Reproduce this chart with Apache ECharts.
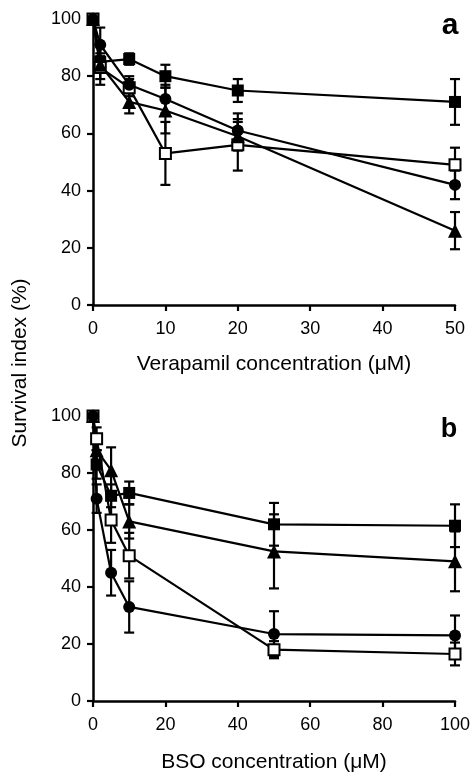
<!DOCTYPE html>
<html>
<head>
<meta charset="utf-8">
<script src="https://cdn.jsdelivr.net/npm/echarts@6/dist/echarts.min.js"></script>
<style>
html,body{margin:0;padding:0;background:#fff;}
#c{width:473px;height:774px;}
</style>
</head>
<body>
<div id="c"></div>
<script>
// Panel a: Verapamil
const xA = [0, 1, 5, 10, 20, 50];
const aFilledSquare = [100, 85, 86, 80, 75, 71];
const aFilledSquareErr = [0, 3, 2, 4, 4, 8];
const aOpenSquare = [100, 83, 76, 53, 56, 49];
const aOpenSquareErr = [0, 4, 3, 11, 9, 6];
const aCircle = [100, 91, 77, 72, 61, 42];
const aCircleErr = [0, 6, 3, 5, 6, 5];
const aTriangle = [100, 84, 71, 68, 59, 26];
const aTriangleErr = [0, 7, 4, 8, 5, 6.5];

// Panel b: BSO
const xB = [0, 1, 5, 10, 50, 100];
const bFilledSquare = [100, 83, 72, 73, 62, 61.5];
const bFilledSquareErr = [0, 5, 4, 4, 7.5, 7.5];
const bTriangle = [100, 88, 81, 63, 52.5, 49];
const bTriangleErr = [0, 5, 8, 6, 13, 10.5];
const bOpenSquare = [100, 92, 63.5, 51, 18, 16.5];
const bOpenSquareErr = [0, 4, 8, 8, 3, 4];
const bCircle = [100, 71, 45, 33, 23.5, 23];
const bCircleErr = [0, 5, 8, 9, 8, 7];

const yTicks = [0, 20, 40, 60, 80, 100];
const xTicksA = [0, 10, 20, 30, 40, 50];
const xTicksB = [0, 20, 40, 60, 80, 100];

const FONT = '"Liberation Sans", Arial, sans-serif';
const chart = echarts.init(document.getElementById('c'));

function pairs(xs, ys) { return xs.map((x, i) => [x, ys[i]]); }
function errData(xs, ys, es) { return xs.map((x, i) => [x, ys[i], es[i]]); }

function lineSeries(idx, xs, ys, symbol, size, open) {
  return {
    type: 'line', xAxisIndex: idx, yAxisIndex: idx,
    data: pairs(xs, ys), symbol: symbol, symbolSize: size,
    showSymbol: true, z: 5,
    lineStyle: { color: '#000', width: 2.2 },
    itemStyle: { color: open ? '#fff' : '#000', borderColor: '#000', borderWidth: open ? 2 : 0 },
    animation: false
  };
}
function errSeries(idx, xs, ys, es) {
  return {
    type: 'custom', xAxisIndex: idx, yAxisIndex: idx,
    data: errData(xs, ys, es), z: 3, animation: false,
    renderItem: function (params, api) {
      const x = api.value(0), y = api.value(1), e = api.value(2);
      if (!e) return null;
      const top = api.coord([x, y + e]);
      const bot = api.coord([x, y - e]);
      const cw = 5;
      const st = { stroke: '#000', lineWidth: 2.2 };
      return {
        type: 'group',
        children: [
          { type: 'line', shape: { x1: top[0], y1: top[1], x2: bot[0], y2: bot[1] }, style: st },
          { type: 'line', shape: { x1: top[0] - cw, y1: top[1], x2: top[0] + cw, y2: top[1] }, style: st },
          { type: 'line', shape: { x1: bot[0] - cw, y1: bot[1], x2: bot[0] + cw, y2: bot[1] }, style: st }
        ]
      };
    }
  };
}

function xAxis(idx, max, interval, name, nameGap) {
  return {
    type: 'value', gridIndex: idx, min: 0, max: max, interval: interval,
    name: name, nameLocation: 'middle', nameGap: nameGap,
    nameTextStyle: { color: '#000', fontSize: 21, fontFamily: FONT },
    axisLine: { show: true, onZero: false, lineStyle: { color: '#000', width: 2.5 } },
    axisTick: { show: true, inside: false, length: 6, lineStyle: { color: '#000', width: 2.2 } },
    axisLabel: { color: '#000', fontSize: 18, fontFamily: FONT, margin: 15 },
    splitLine: { show: false }
  };
}
function yAxis(idx) {
  return {
    type: 'value', gridIndex: idx, min: 0, max: 100, interval: 20,
    axisLine: { show: true, onZero: false, lineStyle: { color: '#000', width: 2.5 } },
    axisTick: { show: true, inside: false, length: 6, lineStyle: { color: '#000', width: 2.2 } },
    axisLabel: { color: '#000', fontSize: 18, fontFamily: FONT, margin: 12 },
    splitLine: { show: false }
  };
}

const option = {
  backgroundColor: '#fff',
  animation: false,
  grid: [
    { left: 93, top: 19, width: 362, height: 286, containLabel: false, outerBoundsMode: 'none' },
    { left: 93, top: 416, width: 362, height: 285, containLabel: false, outerBoundsMode: 'none' }
  ],
  xAxis: [
    xAxis(0, 50, 10, 'Verapamil concentration (\u03bcM)', 49),
    xAxis(1, 100, 20, 'BSO concentration (\u03bcM)', 51)
  ],
  yAxis: [yAxis(0), yAxis(1)],
  graphic: [
    { type: 'text', x: 450, y: 41, style: { text: 'a', fontSize: 30, fontWeight: 'bold', fontFamily: FONT, fill: '#000', align: 'center', verticalAlign: 'bottom' } },
    { type: 'text', x: 449, y: 443, style: { text: 'b', fontSize: 27, fontWeight: 'bold', fontFamily: FONT, fill: '#000', align: 'center', verticalAlign: 'bottom' } },
    { type: 'text', x: 20, y: 363, rotation: Math.PI / 2, style: { text: 'Survival index (%)', fontSize: 21, fontFamily: FONT, fill: '#000', align: 'center', verticalAlign: 'middle' } }
  ],
  series: [
    errSeries(0, xA, aFilledSquare, aFilledSquareErr),
    errSeries(0, xA, aOpenSquare, aOpenSquareErr),
    errSeries(0, xA, aCircle, aCircleErr),
    errSeries(0, xA, aTriangle, aTriangleErr),
    lineSeries(0, xA, aFilledSquare, 'rect', 12, false),
    lineSeries(0, xA, aOpenSquare, 'rect', 11, true),
    lineSeries(0, xA, aCircle, 'circle', 12, false),
    lineSeries(0, xA, aTriangle, 'triangle', 14, false),
    errSeries(1, xB, bFilledSquare, bFilledSquareErr),
    errSeries(1, xB, bTriangle, bTriangleErr),
    errSeries(1, xB, bOpenSquare, bOpenSquareErr),
    errSeries(1, xB, bCircle, bCircleErr),
    lineSeries(1, xB, bFilledSquare, 'rect', 12, false),
    lineSeries(1, xB, bTriangle, 'triangle', 14, false),
    lineSeries(1, xB, bOpenSquare, 'rect', 11, true),
    lineSeries(1, xB, bCircle, 'circle', 12, false)
  ]
};
chart.setOption(option);
</script>
</body>
</html>
